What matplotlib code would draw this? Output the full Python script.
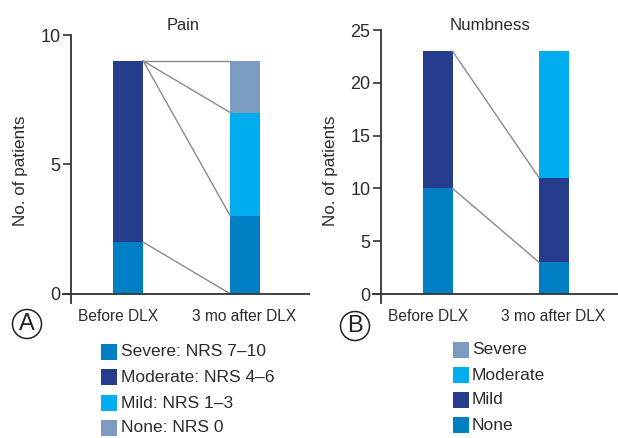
import matplotlib
matplotlib.use("Agg")
import matplotlib.pyplot as plt
import numpy as np
from matplotlib.patches import Ellipse, Rectangle

# ---- Data ----
groups = ["Before DLX", "3 mo after DLX"]

pain_labels = ["Severe: NRS 7\u201310", "Moderate: NRS 4\u20136", "Mild: NRS 1\u20133", "None: NRS 0"]
pain_before = [2, 7, 0, 0]
pain_after = [3, 0, 4, 2]
pain_links = [(9, 9), (9, 7), (9, 3), (2, 0)]

numb_labels = ["None", "Mild", "Moderate", "Severe"]
numb_before = [10, 13, 0, 0]
numb_after = [3, 8, 12, 0]
numb_links = [(23, 11), (10, 3)]

# ---- Style ----
c_mid = "#0080c4"
c_navy = "#253d8c"
c_cyan = "#00aeef"
c_grey = "#7b9bc0"
pain_colors = [c_mid, c_navy, c_cyan, c_grey]
numb_colors = [c_mid, c_navy, c_cyan, c_grey]
txt = "#2b2b2b"

plt.rcParams["font.family"] = ["Liberation Sans", "DejaVu Sans"]
W, H = 618, 438
fig = plt.figure(figsize=(W / 100, H / 100), dpi=100)

bw = 0.256
x = np.arange(len(groups))


def px_rect(left, top, right, bottom):
    return [left / W, 1 - bottom / H, (right - left) / W, (bottom - top) / H]


def panel(ax, before, after, colors, links, ylim, yticks):
    for i, vals in enumerate([before, after]):
        bottom = 0
        for v, c in zip(vals, colors):
            if v:
                ax.bar(x[i], v, bw, bottom=bottom, color=c, linewidth=0)
            bottom += v
    for y0, y1 in links:
        ax.plot([x[0] + bw / 2, x[1] - bw / 2], [y0, y1], color="#8a8a8a", lw=1.0)
    ax.set_xlim(-0.564, 1.55)
    ax.set_ylim(*ylim)
    ax.set_yticks(yticks)
    ax.set_xticks([])
    for s in ["top", "right", "bottom"]:
        ax.spines[s].set_visible(False)
    ax.spines["left"].set_position(("data", -0.487))
    ax.spines["left"].set_color("#333333")
    ax.spines["left"].set_linewidth(1.3)
    ax.axhline(0, color="#333333", lw=1.3)
    ax.tick_params(axis="y", length=6, width=1.2, pad=1.5,
                   labelsize=13, color="#333333", labelcolor=txt)
    offs = [-0.085, -0.01]
    for i, g in enumerate(groups):
        ax.text(x[i] + offs[i], -0.022, g, transform=ax.get_xaxis_transform(),
                ha="center", va="top", fontsize=11.2, color=txt)
    ax.set_ylabel("No. of patients", fontsize=12.3, color=txt)


ax_a = fig.add_axes(px_rect(62, 35, 310, 303))
panel(ax_a, pain_before, pain_after, pain_colors, pain_links, (-0.35, 10), [0, 5, 10])
ax_a.yaxis.set_label_coords(28 / W, 1 - 171 / H, transform=fig.transFigure)

ax_b = fig.add_axes(px_rect(372, 30, 618, 303))
panel(ax_b, numb_before, numb_after, numb_colors, numb_links, (-0.85, 25), [0, 5, 10, 15, 20, 25])
ax_b.yaxis.set_label_coords(338 / W, 1 - 171 / H, transform=fig.transFigure)

fig.text(183 / W, 1 - 26 / H, "Pain", ha="center", va="center", fontsize=11.8, color=txt)
fig.text(490 / W, 1 - 25 / H, "Numbness", ha="center", va="center", fontsize=12.2, color=txt)

# circled panel letters
for cx, cy, letter in [(27, 324, "A"), (355, 326, "B")]:
    fig.add_artist(Ellipse((cx / W, 1 - cy / H), 29 / W, 29 / H, transform=fig.transFigure,
                           facecolor="none", edgecolor="#222222", lw=1.1))
    fig.text(cx / W, 1 - (cy + 0.5) / H, letter, ha="center", va="center", fontsize=17,
             color="#222222")

# legends drawn manually
legend_rows_a = [352, 377, 403, 428]
for lab, c, yy in zip(pain_labels, pain_colors, legend_rows_a):
    fig.add_artist(Rectangle((101 / W, 1 - (yy + 8) / H), 16 / W, 16 / H,
                             transform=fig.transFigure, color=c, lw=0))
    fig.text(121 / W, 1 - yy / H, lab, ha="left", va="center", fontsize=12.5, color=txt)

numb_leg = ["Severe", "Moderate", "Mild", "None"]
numb_leg_colors = [c_grey, c_cyan, c_navy, c_mid]
legend_rows_b = [350, 375, 400, 425]
for lab, c, yy in zip(numb_leg, numb_leg_colors, legend_rows_b):
    fig.add_artist(Rectangle((453 / W, 1 - (yy + 8) / H), 16 / W, 16 / H,
                             transform=fig.transFigure, color=c, lw=0))
    fig.text(472 / W, 1 - yy / H, lab, ha="left", va="center", fontsize=12.5, color=txt)

fig.savefig("out.png", dpi=100, facecolor="white")
